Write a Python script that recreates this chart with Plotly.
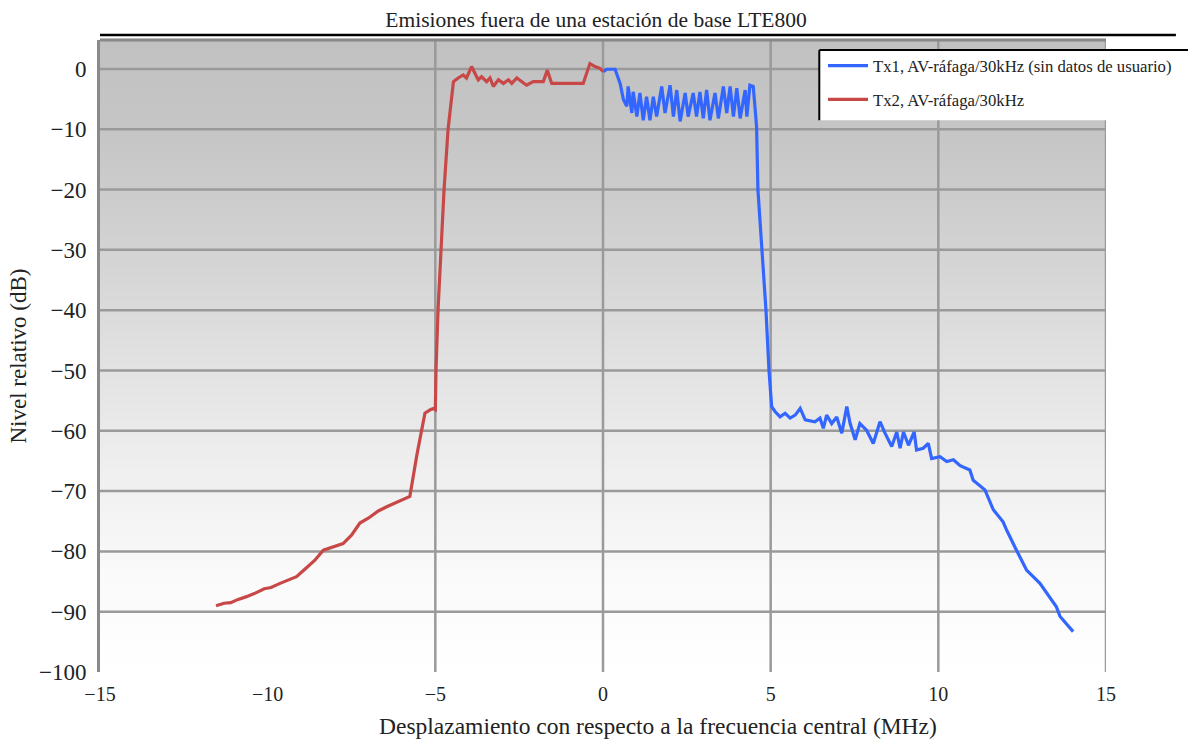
import plotly.graph_objects as go

# ---- data ----
tx2_x = [-11.54, -11.3, -11.1, -10.9, -10.63, -10.4, -10.1, -9.9, -9.63, -9.4,
         -9.14, -8.9, -8.6, -8.34, -8.1, -7.95, -7.75, -7.5, -7.25, -7.0,
         -6.7, -6.45, -6.2, -5.86, -5.76, -5.55, -5.31, -5.15, -5.06, -5.0,
         -4.98, -4.92, -4.83, -4.74, -4.62, -4.5, -4.46, -4.32, -4.17, -4.07,
         -3.92, -3.82, -3.72, -3.62, -3.47, -3.37, -3.27, -3.12, -2.97, -2.82,
         -2.72, -2.57, -2.42, -2.28, -2.08, -1.78, -1.66, -1.53, -0.59, -0.49,
         -0.39, -0.24, -0.09, 0.01]
tx2_y = [-89.0, -88.6, -88.5, -88.0, -87.5, -87.0, -86.2, -86.0, -85.3, -84.8,
         -84.2, -83.0, -81.5, -79.8, -79.3, -79.0, -78.7, -77.3, -75.3, -74.5,
         -73.3, -72.6, -72.0, -71.2, -70.9, -64.0, -57.1, -56.5, -56.3, -56.5,
         -50, -40, -30, -20, -10, -3.5, -2.1, -1.5, -1.0, -1.5,
         0.4, -0.7, -1.8, -1.3, -2.1, -1.5, -2.9, -1.8, -2.4, -1.8,
         -2.4, -1.5, -2.1, -2.7, -2.1, -2.1, -0.2, -2.4, -2.4, -0.7,
         0.9, 0.4, 0.1, -0.45]

tx1_x = [0.01, 0.11, 0.36, 0.51, 0.61, 0.71, 0.75, 0.86, 0.90, 1.01,
         1.10, 1.20, 1.30, 1.40, 1.50, 1.60, 1.75, 1.85, 2.00, 2.10,
         2.20, 2.30, 2.45, 2.54, 2.69, 2.79, 2.89, 2.99, 3.09, 3.19,
         3.34, 3.44, 3.59, 3.69, 3.79, 3.89, 3.99, 4.09, 4.24, 4.29,
         4.38, 4.48, 4.53, 4.58, 4.62, 4.74, 4.86, 4.95, 4.98, 5.03,
         5.13, 5.28, 5.43, 5.58, 5.73, 5.88, 6.03, 6.32, 6.47, 6.57,
         6.67, 6.82, 6.97, 7.12, 7.27, 7.37, 7.52, 7.66, 7.86, 8.06,
         8.26, 8.41, 8.61, 8.76, 8.86, 8.96, 9.11, 9.28, 9.35, 9.55,
         9.70, 9.80, 10.05, 10.25, 10.45, 10.65, 10.94, 11.04, 11.39, 11.64,
         11.93, 12.04, 12.33, 12.63, 13.03, 13.52, 13.63, 14.02]
tx1_y = [-0.45, -0.05, -0.05, -2.4, -5.1, -6.2, -2.9, -7.3, -3.8, -7.9,
         -4.0, -8.5, -4.6, -8.5, -4.6, -7.9, -2.9, -7.3, -2.7, -7.9,
         -3.5, -8.7, -4.0, -7.9, -4.0, -7.9, -3.8, -8.2, -3.5, -8.5,
         -4.0, -8.2, -2.9, -7.3, -2.9, -7.9, -3.2, -8.2, -3.5, -7.9,
         -2.7, -2.9, -6.2, -9.6, -20, -30, -40, -50, -53.2, -56.0,
         -56.8, -57.7, -57.1, -57.9, -57.4, -56.3, -58.2, -58.5, -57.9, -59.6,
         -57.4, -58.8, -57.7, -60.4, -56.0, -58.8, -61.5, -58.8, -59.9, -62.1,
         -58.5, -60.4, -62.6, -60.2, -62.9, -60.2, -62.4, -60.2, -63.2, -62.9,
         -62.1, -64.6, -64.3, -65.1, -64.8, -65.8, -66.5, -68.2, -69.8, -73.1,
         -75.1, -76.5, -79.8, -83.1, -85.3, -89.2, -90.8, -93.3]

x_ticks = [-15, -10, -5, 0, 5, 10, 15]
y_ticks = [0, -10, -20, -30, -40, -50, -60, -70, -80, -90, -100]
x_grid = [-5, 0, 5, 10, 15]
y_grid = [0, -10, -20, -30, -40, -50, -60, -70, -80, -90]

SERIF = "Liberation Serif, Times New Roman, serif"
BLUE = "#3366ff"
RED = "#c84848"
TXT = "#222222"
GRID = "#9a9a9a"

fig = go.Figure()
fig.add_trace(go.Scatter(x=tx1_x, y=tx1_y, mode="lines", name="Tx1, AV-ráfaga/30kHz (sin datos de usuario)",
                         line=dict(color=BLUE, width=3.2), legendgroup="a"))
fig.add_trace(go.Scatter(x=tx2_x, y=tx2_y, mode="lines", name="Tx2, AV-ráfaga/30kHz",
                         line=dict(color=RED, width=3.2), legendgroup="b"))

shapes = []
# background gradient (gray at top -> white at bottom)
stops = [(0.0, 255), (0.15, 250), (0.3, 240), (0.5, 225), (0.7, 208), (0.85, 198), (1.0, 193)]
N = 80
def shade(t):
    for (t0, c0), (t1, c1) in zip(stops[:-1], stops[1:]):
        if t0 <= t <= t1:
            return c0 + (c1 - c0) * (t - t0) / (t1 - t0)
    return stops[-1][1]
for i in range(N):
    y0 = i / N
    y1 = (i + 1) / N
    c = int(round(shade((y0 + y1) / 2)))
    shapes.append(dict(type="rect", xref="paper", yref="paper", x0=0, x1=1, y0=y0, y1=y1 + 0.002,
                       fillcolor=f"rgb({c},{c},{c})", line=dict(width=0), layer="below"))
# grid lines
for gx in x_grid:
    shapes.append(dict(type="line", xref="x", yref="paper", x0=gx, x1=gx, y0=0, y1=1,
                       line=dict(color=GRID, width=2.5), layer="below"))
for gy in y_grid:
    shapes.append(dict(type="line", xref="paper", yref="y", x0=0, x1=1, y0=gy, y1=gy,
                       line=dict(color=GRID, width=2.5), layer="below"))
# top border of plot
shapes.append(dict(type="line", xref="paper", yref="paper", x0=0, x1=1, y0=1, y1=1,
                   line=dict(color="#888888", width=3)))
# black rule under title
shapes.append(dict(type="line", xref="paper", yref="paper", x0=0, x1=1.0695, y0=1.0079, y1=1.0079,
                   line=dict(color="black", width=2.5)))
# legend box
lx0, lx1, ly0, ly1 = 0.715, 1.09, 0.873, 0.984
shapes.append(dict(type="rect", xref="paper", yref="paper", x0=lx0, x1=lx1, y0=ly0, y1=ly1,
                   fillcolor="white", line=dict(width=0)))
shapes.append(dict(type="line", xref="paper", yref="paper", x0=lx0, x1=lx1, y0=ly1, y1=ly1,
                   line=dict(color="black", width=2)))
shapes.append(dict(type="line", xref="paper", yref="paper", x0=lx0, x1=lx0, y0=ly0, y1=ly1,
                   line=dict(color="black", width=2)))

fig.update_layout(
    width=1188, height=739,
    margin=dict(l=100, r=81, t=40, b=67),
    paper_bgcolor="white", plot_bgcolor="white",
    font=dict(family=SERIF, color=TXT),
    title=dict(text="Emisiones fuera de una estación de base LTE800", x=596 / 1188, xanchor="center",
               y=1 - 19 / 739, yanchor="middle", font=dict(family=SERIF, size=21.5, color=TXT)),
    shapes=shapes,
    showlegend=True,
    legend=dict(x=0.718, y=0.987, xanchor="left", yanchor="top", bgcolor="rgba(0,0,0,0)",
                borderwidth=0, font=dict(family=SERIF, size=16.7, color=TXT),
                tracegroupgap=9, itemwidth=40),
    annotations=[dict(text="Desplazamiento con respecto a la frecuencia central (MHz)",
                      xref="paper", yref="paper", x=(659 - 100) / 1007, y=(672 - 726) / 632,
                      xanchor="center", yanchor="middle", showarrow=False,
                      font=dict(family=SERIF, size=23.5, color=TXT))],
    xaxis=dict(range=[-15, 15], tickvals=x_ticks, showgrid=False, zeroline=False, showline=False,
               ticks="", ticklabelstandoff=8, automargin=False,
               tickfont=dict(family=SERIF, size=20, color=TXT)),
    yaxis=dict(range=[-100, 4.8], tickvals=y_ticks, showgrid=False,
               zeroline=False, showline=True, linecolor="#8a8a8a", linewidth=3, ticks="",
               ticklabelstandoff=6, automargin=False,
               tickfont=dict(family=SERIF, size=23, color=TXT),
               title=dict(text="Nivel relativo (dB)", font=dict(family=SERIF, size=23, color=TXT),
                          standoff=6)),
)

fig.write_html("out.html", config={"displayModeBar": False},
               post_script="document.body.style.margin='0';document.body.style.overflow='hidden';")
